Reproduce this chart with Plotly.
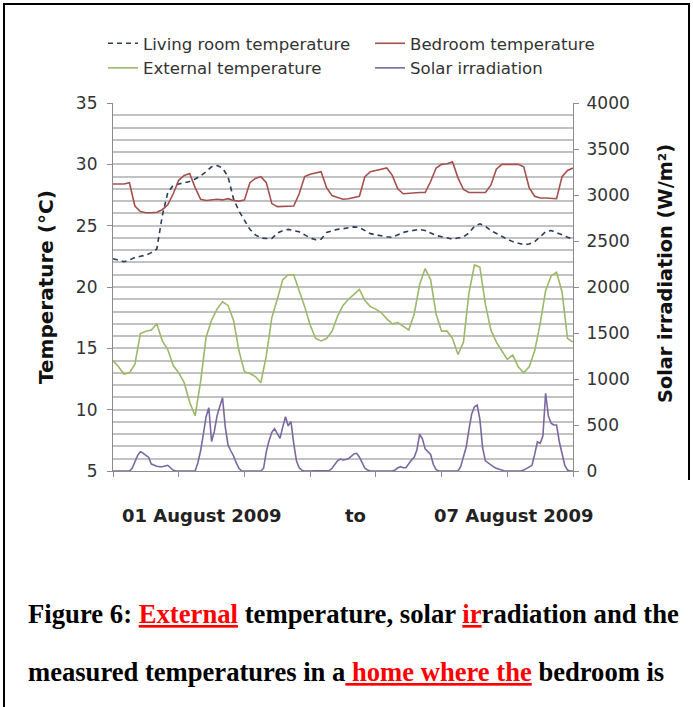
import plotly.graph_objects as go

# ---------------- data ----------------
hours_2h = list(range(0, 169, 2))
hours_1h = list(range(0, 169))

living_room = [22.3, 22.15, 22.06, 22.2, 22.4, 22.5, 22.6, 22.8, 23.1, 25.8, 27.7, 28.3,
               28.4, 28.5, 28.6, 28.8, 29.05, 29.4, 29.8, 29.9, 29.7, 29.0, 27.2, 26.2,
               25.4, 24.7, 24.25, 24.0, 23.95, 23.95, 24.4, 24.6, 24.7, 24.6, 24.5, 24.25,
               24.0, 23.85, 23.9, 24.45, 24.6, 24.7, 24.75, 24.85, 24.9, 24.85, 24.6, 24.35,
               24.25, 24.15, 24.1, 24.05, 24.25, 24.45, 24.55, 24.6, 24.7, 24.6, 24.4, 24.2,
               24.1, 24.0, 23.9, 24.0, 24.1, 24.4, 24.95, 25.15, 24.95, 24.6, 24.35, 24.1,
               23.9, 23.7, 23.55, 23.45, 23.5, 23.7, 24.1, 24.5, 24.6, 24.45, 24.25, 24.05,
               23.9]

bedroom = [28.4, 28.4, 28.4, 28.5, 26.6, 26.15, 26.05, 26.05, 26.1, 26.3, 26.7, 27.6,
           28.7, 29.1, 29.25, 28.1, 27.15, 27.05, 27.1, 27.15, 27.1, 27.2, 27.05, 27.0,
           27.1, 28.5, 28.85, 29.0, 28.5, 26.8, 26.55, 26.55, 26.55, 26.6, 27.6, 29.0,
           29.2, 29.3, 29.4, 28.1, 27.45, 27.3, 27.15, 27.2, 27.3, 27.4, 29.0, 29.4,
           29.5, 29.6, 29.7, 29.1, 28.0, 27.6, 27.65, 27.65, 27.7, 27.7, 28.6, 29.7,
           30.0, 30.05, 30.2, 28.9, 27.95, 27.7, 27.7, 27.7, 27.7, 28.3, 29.6, 30.0,
           30.0, 30.0, 30.0, 29.8, 28.1, 27.4, 27.25, 27.25, 27.2, 27.2, 29.0, 29.5,
           29.7]

external = [14.0, 13.5, 12.9, 13.0, 13.7, 16.2, 16.4, 16.5, 17.0, 15.6, 14.9, 13.6,
            13.0, 12.2, 10.6, 9.5, 12.3, 15.9, 17.3, 18.2, 18.8, 18.5, 17.3, 14.8,
            13.1, 12.95, 12.7, 12.2, 14.4, 17.5, 19.0, 20.6, 21.0, 21.0, 19.7, 18.4,
            16.9, 15.8, 15.6, 15.8, 16.4, 17.6, 18.5, 19.0, 19.4, 19.8, 18.9, 18.4,
            18.2, 17.9, 17.4, 17.0, 17.1, 16.8, 16.5, 17.8, 20.2, 21.5, 20.6, 17.8,
            16.4, 16.4, 15.8, 14.5, 15.5, 19.5, 21.8, 21.6, 18.6, 16.5, 15.5, 14.8,
            14.1, 14.45, 13.5, 13.0, 13.5, 14.8, 17.0, 19.7, 20.9, 21.2, 19.6, 15.8,
            15.5]

solar = [0, 0, 0, 0, 0, 0, 0, 30, 100, 170, 210, 195, 170, 150, 75, 60, 52, 48, 47, 55,
         62, 35, 8, 0, 0, 0, 0, 0, 0, 0, 0, 90, 220, 400, 590, 688, 320, 430, 600, 700,
         797, 480, 283, 220, 165, 90, 30, 0, 0, 0, 0, 0, 0, 0, 0, 30, 210, 330, 420, 460,
         400, 355, 480, 590, 490, 536, 300, 110, 35, 8, 0, 0, 0, 0, 0, 0, 0, 0, 0, 5,
         30, 70, 110, 130, 120, 125, 135, 160, 185, 192, 150, 90, 30, 10, 0, 0, 0, 0, 0, 0,
         0, 0, 0, 10, 35, 47, 35, 35, 80, 120, 150, 230, 400, 350, 240, 210, 180, 70, 15, 0,
         0, 0, 0, 0, 0, 0, 0, 50, 150, 260, 450, 620, 699, 717, 560, 250, 110, 85, 65, 45,
         30, 20, 10, 0, 0, 0, 0, 0, 0, 0, 10, 25, 40, 60, 180, 318, 300, 380, 845, 600,
         520, 500, 500, 318, 190, 60, 10, 0, 0]

temp_ticks = [5, 10, 15, 20, 25, 30, 35]
solar_ticks = [0, 500, 1000, 1500, 2000, 2500, 3000, 3500, 4000]
day_ticks = [0, 24, 48, 72, 96, 120, 144, 168]

# ---------------- layout helpers ----------------
W_FIG, H_FIG = 693, 707
L, R, T, B = 113, 573, 103, 471          # plot area in pixels
PW, PH = R - L, B - T


def px(x):
    return (x - L) / PW


def py(y):
    return (B - y) / PH


SANS = "DejaVu Sans, Arial, sans-serif"
SERIF = "Liberation Serif, Times New Roman, serif"
TXT = "#333333"
GRID = "#c2c2c2"
AX = "#8c8c8c"

fig = go.Figure()
fig.add_trace(go.Scatter(x=hours_2h, y=living_room, mode="lines", name="Living room temperature",
                         line=dict(color="#2b3d57", width=1.6, dash="5px,4px")))
fig.add_trace(go.Scatter(x=hours_2h, y=bedroom, mode="lines", name="Bedroom temperature",
                         line=dict(color="#a4504e", width=1.6)))
fig.add_trace(go.Scatter(x=hours_2h, y=external, mode="lines", name="External temperature",
                         line=dict(color="#9cb86a", width=1.6)))
fig.add_trace(go.Scatter(x=hours_1h, y=solar, mode="lines", name="Solar irradiation",
                         line=dict(color="#7b68a0", width=1.6), yaxis="y2"))

fig.update_layout(
    width=W_FIG, height=H_FIG,
    margin=dict(l=L, r=W_FIG - R, t=T, b=H_FIG - B, pad=0),
    paper_bgcolor="white", plot_bgcolor="white",
    font=dict(family=SANS, size=17, color=TXT),
    showlegend=True,
    legend=dict(orientation="h", x=px(103), y=py(26), xanchor="left", yanchor="top",
                entrywidth=222, entrywidthmode="pixels", bgcolor="rgba(0,0,0,0)",
                font=dict(family=SANS, size=16.6, color=TXT), tracegroupgap=0),
    xaxis=dict(range=[0, 168], tickvals=day_ticks, ticktext=[""] * len(day_ticks),
               ticks="outside", ticklen=5, tickcolor=AX, showgrid=False,
               showline=True, linecolor=AX, linewidth=1.2, zeroline=False,
               fixedrange=True),
    yaxis=dict(range=[5, 35], tickvals=temp_ticks, ticks="outside", ticklen=5,
               tickcolor=AX, showline=True, linecolor=AX, linewidth=1.2,
               showgrid=True, gridcolor=GRID, gridwidth=1.6, zeroline=False,
               minor=dict(dtick=1, showgrid=True, gridcolor=GRID, gridwidth=1.6),
               tickfont=dict(size=17, color=TXT), ticklabelstandoff=6, fixedrange=True),
    yaxis2=dict(range=[0, 4000], tickvals=solar_ticks, overlaying="y", side="right",
                ticks="outside", ticklen=5, tickcolor=AX, showline=True,
                linecolor=AX, linewidth=1.2, showgrid=False, zeroline=False,
                tickfont=dict(size=17, color=TXT), ticklabelstandoff=4, fixedrange=True),
)

annotations = [
    dict(text="<b>Temperature (°C)</b>", x=px(46), y=py(287), textangle=-90,
         font=dict(family=SANS, size=20, color="#111111")),
    dict(text="<b>Solar irradiation (W/m²)</b>", x=px(665), y=py(274), textangle=-90,
         font=dict(family=SANS, size=19.3, color="#111111")),
    dict(text="<b>01 August 2009</b>", x=px(201), y=py(515),
         font=dict(family=SANS, size=18, color="#222222")),
    dict(text="<b>to</b>", x=px(355), y=py(515),
         font=dict(family=SANS, size=18, color="#222222")),
    dict(text="<b>07 August 2009</b>", x=px(513), y=py(515),
         font=dict(family=SANS, size=18, color="#222222")),
    dict(text="<b>Figure 6: <span style='color:#ff0000;text-decoration:underline'>External</span>"
              " temperature, solar <span style='color:#ff0000;text-decoration:underline'>ir</span>"
              "radiation and the</b>",
         x=px(26), y=py(614), xanchor="left",
         font=dict(family=SERIF, size=26.7, color="#000000")),
    dict(text="<b>measured temperatures in a<span style='color:#ff0000;text-decoration:underline'>"
              " home where the</span> bedroom is</b>",
         x=px(26), y=py(672), xanchor="left",
         font=dict(family=SERIF, size=26.6, color="#000000")),
]
for a in annotations:
    a.update(xref="paper", yref="paper", showarrow=False, yanchor=a.get("yanchor", "middle"),
             xanchor=a.get("xanchor", "center"))
fig.update_layout(annotations=annotations)

shapes = [
    dict(type="line", x0=px(4), x1=px(4), y0=py(3), y1=py(707)),
    dict(type="line", x0=px(3), x1=px(690), y0=py(4), y1=py(4)),
    dict(type="line", x0=px(689), x1=px(689), y0=py(3), y1=py(480)),
]
for s in shapes:
    s.update(xref="paper", yref="paper", line=dict(color="#000000", width=2))
fig.update_layout(shapes=shapes)

fig.write_html("out.html", config={"displayModeBar": False},
               post_script="document.body.style.margin='0px';")
